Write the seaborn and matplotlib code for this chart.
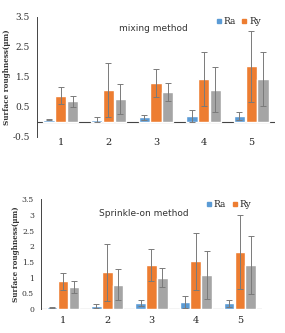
import matplotlib
import numpy as np
import pandas as pd

matplotlib.use("Agg")
import matplotlib.pyplot as plt
import seaborn as sns
from matplotlib.lines import Line2D
from matplotlib.ticker import MultipleLocator

# Data
samples = ["1", "2", "3", "4", "5"]
series = ["Ra", "Ry", "S3"]

mix_ra = [0.07, 0.07, 0.15, 0.18, 0.20]
mix_ry = [0.88, 1.07, 1.30, 1.43, 1.85]
mix_s3 = [0.68, 0.75, 1.00, 1.07, 1.43]
mix_ra_err = [0.02, 0.08, 0.08, 0.20, 0.13]
mix_ry_err = [0.27, 0.90, 0.47, 0.90, 1.18]
mix_s3_err = [0.20, 0.50, 0.30, 0.75, 0.90]

spr_ra = [0.05, 0.10, 0.20, 0.22, 0.18]
spr_ry = [0.88, 1.17, 1.40, 1.52, 1.83]
spr_s3 = [0.70, 0.78, 1.00, 1.08, 1.40]
spr_ra_err = [0.02, 0.06, 0.10, 0.18, 0.12]
spr_ry_err = [0.28, 0.90, 0.50, 0.90, 1.18]
spr_s3_err = [0.18, 0.50, 0.30, 0.77, 0.92]

colors = ["#5B9BD5", "#ED7D31", "#A5A5A5"]


def long_table(ra, ry, s3, ra_err, ry_err, s3_err):
    rows = []
    for name, vals, errs in zip(series, [ra, ry, s3], [ra_err, ry_err, s3_err]):
        for s, v, e in zip(samples, vals, errs):
            rows.append({"sample": s, "series": name, "value": v, "err": e})
    return pd.DataFrame(rows)


def draw_panel(ax, df, title, title_pos, ymin, label_steps, ylabel_x, leg_anchor, xpad, ytick_size):
    sns.barplot(
        data=df, x="sample", y="value", hue="series", hue_order=series,
        palette=colors, width=0.74, gap=0.04, errorbar=None, legend=False,
        saturation=1, ax=ax,
    )
    # error bars placed on the bar patches
    for container, name in zip(ax.containers, series):
        sub = df[df["series"] == name]
        xs = [p.get_x() + p.get_width() / 2 for p in container.patches]
        ax.errorbar(xs, sub["value"], yerr=sub["err"], fmt="none",
                    ecolor="#7a7a7a", elinewidth=0.7, capsize=2.4, capthick=0.7)

    ax.set_ylim(ymin, 3.5)
    ax.set_xlim(-0.5, 4.5)
    ax.yaxis.set_minor_locator(MultipleLocator(0.1))
    ticks = np.arange(ymin, 3.51, 0.5)
    ax.set_yticks(ticks)
    ax.set_yticklabels([f"{t:g}" if i % label_steps == 0 else "" for i, t in enumerate(ticks)],
                       family="serif", fontsize=ytick_size, color="#333333")
    ax.set_xticks(range(len(samples)))
    ax.set_xticklabels(samples, family="serif", fontsize=7, color="#222222")
    ax.tick_params(axis="x", length=0, pad=xpad)
    ax.tick_params(axis="y", which="major", length=3, width=0.6, direction="out", pad=2)
    ax.tick_params(axis="y", which="minor", length=1.5, width=0.5, direction="out")
    ax.set_xlabel("")
    ax.set_ylabel("Surface roughness(\u03bcm)", family="serif", fontsize=5.2,
                  fontweight="bold", color="#333333")
    ax.yaxis.set_label_coords(ylabel_x, 0.5)

    sns.despine(ax=ax, top=True, right=True, bottom=True)
    ax.spines["left"].set_linewidth(0.7)
    ax.spines["left"].set_color("#444444")
    ax.axhline(0, color="#444444", lw=0.8, zorder=0.5)

    ax.text(title_pos[0], title_pos[1], title, transform=ax.transAxes,
            ha="center", va="center", fontsize=6.5, color="#333333")

    handles = [Line2D([], [], marker="s", ls="", color=c, markersize=3.2) for c in colors[:2]]
    ax.legend(handles, series[:2], ncol=2, loc="upper right", frameon=False,
              prop={"family": "serif", "size": 6.5}, handletextpad=0.0,
              columnspacing=0.5, borderaxespad=0.0, borderpad=0.0,
              handlelength=1.0, bbox_to_anchor=leg_anchor)


sns.set_style("white")

fig = plt.figure(figsize=(2.85, 3.33), dpi=100)
ax_top = fig.add_axes([0.130, 0.589, 0.835, 0.36])
ax_bot = fig.add_axes([0.144, 0.072, 0.775, 0.33])

mix = long_table(mix_ra, mix_ry, mix_s3, mix_ra_err, mix_ry_err, mix_s3_err)
spr = long_table(spr_ra, spr_ry, spr_s3, spr_ra_err, spr_ry_err, spr_s3_err)

draw_panel(ax_top, mix, "mixing method", (0.49, 0.90), -0.5, 2, -0.108, (0.94, 1.0), 1, 6.5)
draw_panel(ax_bot, spr, "Sprinkle-on method", (0.466, 0.873), 0.0, 1, -0.095, (0.95, 0.99), 5, 5.5)

fig.savefig("out.png", dpi=100)
